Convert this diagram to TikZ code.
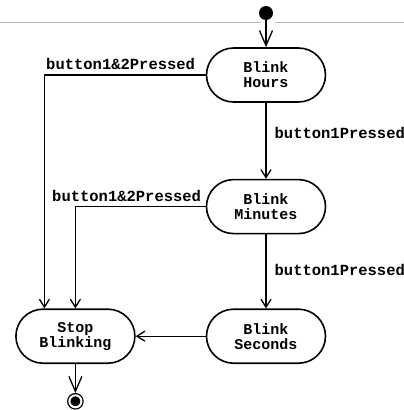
\documentclass[tikz,border=0pt]{standalone}
\usepackage{fontspec}
\setmonofont{Liberation Mono}
\usepackage{tikz}
\usetikzlibrary{positioning, arrows.meta}

\begin{document}
\begin{tikzpicture}[
    x=1pt, y=1pt,
    >={Straight Barb[length=8pt,width=10pt]},
    activity/.style={rectangle, draw=black, line width=1.6pt, rounded corners=27pt, align=center, minimum width=119pt, minimum height=54pt, font=\ttfamily\bfseries\fontsize{15}{15}\selectfont},
    trigger/.style={font=\ttfamily\bfseries\fontsize{15.5}{15}\selectfont, inner sep=0pt},
    flow/.style={->, line width=1.3pt},
    bigflow/.style={-{Straight Barb[length=15pt,width=13pt]}, line width=1.3pt},
    startdot/.style={circle, fill=black, minimum size=14pt, inner sep=0pt},
    enddot/.style={circle, draw=black, fill=black, double=white, double distance=2pt, line width=1.3pt, minimum size=12pt, inner sep=0pt, outer sep=2.3pt},
    node distance=70pt % between borders
]
\useasboundingbox (0,0) rectangle (404,-410);

% Nodes
\node[activity] (hours) at (266,-75) {Blink\\Hours};
\node[activity, below=76pt of hours] (minutes) {Blink\\Minutes};
\node[activity, below=74pt of minutes] (seconds) {Blink\\Seconds};
\node[activity, left=70pt of seconds] (stop) {Stop\\Blinking};
\node[startdot, above=27pt of hours] (start) {};
\node[enddot, below=29pt of stop] (finish) {};

% Separator rule
\draw[gray!55, line width=1pt] (0,-22) -- (261,-22);
\draw[gray!55, line width=1pt] (275,-22) -- (404,-22);

% Transitions
\draw[bigflow] (start) -- (hours);
\draw[flow] (hours) -- node[trigger, anchor=base west, xshift=8pt, yshift=2pt] {button1Pressed} (minutes);
\draw[flow] (minutes) -- node[trigger, anchor=base west, xshift=8pt, yshift=-4pt] {button1Pressed} (seconds);
\draw[flow] (seconds) -- (stop);

% Both buttons
\draw[flow] (hours.west) -| node[trigger, pos=0, anchor=base east, xshift=-10pt, yshift=6pt] {button1\&2Pressed} ([xshift=-31pt]stop.north);
\draw[flow] (minutes.west) -| node[trigger, pos=0, anchor=base east, xshift=-4pt, yshift=5pt] {button1\&2Pressed} (stop.north);

\draw[bigflow] (stop) -- (finish);

\end{tikzpicture}
\end{document}
